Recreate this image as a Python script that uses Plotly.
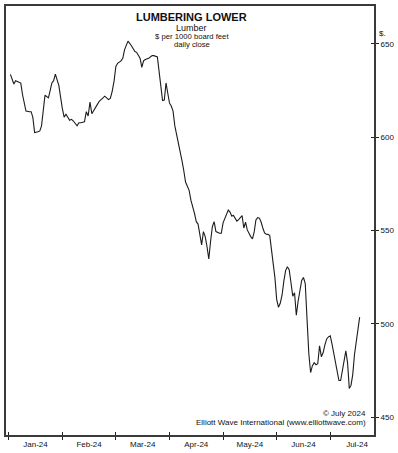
import calendar
import plotly.graph_objects as go

# ---- data: lumber daily close, $ per 1000 board feet ----
jan_days = [2, 4, 5, 7, 8, 9, 10, 11, 13, 14, 15, 16, 18, 19, 20, 21, 22, 24, 25, 26, 27, 28, 30, 31]
jan_close = [633.6, 628.4, 630.2, 629.5, 628.9, 622.8, 617.5, 613.9, 613.6, 613.6, 610.4, 602.4,
             602.9, 603.3, 606.0, 613.9, 622.4, 621.0, 625.4, 629.0, 630.2, 633.7, 627.7, 621.0]
feb_days = [1, 2, 3, 5, 6, 7, 9, 10, 11, 13, 14, 15, 16, 17, 19, 20, 21, 22, 23, 24, 26, 27, 28, 29]
feb_close = [615.5, 610.7, 612.2, 609.0, 609.5, 608.6, 606.0, 607.7, 607.7, 608.2, 613.6, 611.3,
             618.7, 612.5, 615.4, 617.5, 619.2, 620.1, 621.4, 621.9, 620.1, 620.7, 624.5, 629.8]
mar_days = [1, 2, 4, 5, 6, 7, 8, 10, 12, 13, 15, 16, 17, 18, 20, 22, 23, 25, 26, 27, 28, 29, 30, 31]
mar_close = [637.8, 639.5, 640.8, 642.2, 646.7, 649.3, 651.4, 648.9, 645.8, 645.4, 642.2, 637.3,
             640.8, 641.5, 642.2, 643.6, 643.6, 642.9, 634.2, 626.3, 619.6, 619.8, 629.0, 623.6]
apr_days = [1, 2, 3, 4, 5, 7, 8, 9, 10, 12, 13, 15, 16, 17, 18, 19, 20, 21, 22, 23, 24, 25, 26, 27, 29, 30]
apr_close = [618.3, 616.6, 613.9, 606.0, 601.6, 591.0, 587.4, 582.1, 575.9, 571.5, 566.2, 559.1, 554.7,
             553.4, 547.6, 542.3, 549.4, 546.7, 541.4, 534.7, 544.1, 552.0, 554.7, 549.4, 548.5, 548.5]
may_days = list(range(1, 32))
may_close = [554.1, 556.6, 558.2, 560.9, 559.8, 557.7, 558.0, 556.1, 555.0, 555.8, 557.2, 557.9, 551.3,
             554.4, 550.3, 548.1, 546.7, 545.5, 549.2, 555.6, 556.9, 556.6, 554.5, 551.3, 548.7, 548.0,
             547.9, 547.2, 539.7, 530.8, 524.6]
jun_days = list(range(1, 31))
jun_close = [513.1, 508.9, 511.0, 515.3, 522.7, 528.5, 530.6, 529.0, 522.1, 514.8, 516.6, 504.6, 512.1,
             518.4, 523.2, 524.8, 521.6, 502.5, 484.0, 473.9, 477.6, 479.2, 478.1, 478.6, 488.2, 482.4,
             484.5, 488.7, 491.9, 493.0]
jul_days = list(range(1, 19))
jul_close = [493.5, 489.3, 484.0, 480.2, 474.9, 469.6, 469.6, 474.9, 480.2, 485.5, 479.2, 465.4, 467.0,
             472.8, 483.4, 490.8, 498.3, 503.6]

month_labels = ["Jan-24", "Feb-24", "Mar-24", "Apr-24", "May-24", "Jun-24", "Jul-24"]
y_ticks = [450, 500, 550, 600, 650]

# ---- build series: each month gets equal width on the time axis ----
months = [(1, jan_days, jan_close), (2, feb_days, feb_close), (3, mar_days, mar_close),
          (4, apr_days, apr_close), (5, may_days, may_close), (6, jun_days, jun_close),
          (7, jul_days, jul_close)]
xs, ys, hover = [], [], []
for m, days, vals in months:
    nd = calendar.monthrange(2024, m)[1]
    for d, v in zip(days, vals):
        xs.append((m - 1) + (d - 1) / nd)
        ys.append(v)
        hover.append(f"2024-{m:02d}-{d:02d}")

bounds = list(range(len(month_labels)))
mids = [b + 0.5 for b in bounds]
xr = [-0.05, 6.816]
yr = [440.45, 670.2]

FONT = "Liberation Sans, Arial, Helvetica, sans-serif"
AX = "#3a3a3a"

fig = go.Figure()
fig.add_trace(go.Scatter(x=xs, y=ys, mode="lines", text=hover,
                         line=dict(color="#1c1c1c", width=1.1),
                         hovertemplate="%{text}: %{y}<extra></extra>", showlegend=False))
fig.add_trace(go.Scatter(x=xs, y=ys, mode="lines", xaxis="x2", yaxis="y2",
                         line=dict(width=0), hoverinfo="skip", showlegend=False))

fig.update_layout(
    width=398, height=453,
    margin=dict(l=4, r=24, t=4, b=16),
    paper_bgcolor="white", plot_bgcolor="white",
    font=dict(family=FONT, size=8, color="#111"),
    xaxis=dict(range=xr, tickmode="array", tickvals=mids, ticktext=month_labels,
               ticks="", showline=True, linecolor=AX, linewidth=2, mirror=True,
               showgrid=False, zeroline=False, tickfont=dict(size=8),
               minor=dict(tickmode="array", tickvals=bounds, ticks="outside",
                          ticklen=3, tickwidth=1, tickcolor="#222")),
    xaxis2=dict(range=xr, overlaying="x", anchor="y", side="bottom", tickmode="array",
                tickvals=bounds, ticks="inside", ticklen=3, tickwidth=1, tickcolor="#222",
                showticklabels=False, showline=False, showgrid=False, zeroline=False),
    yaxis=dict(range=yr, side="right", tickmode="array", tickvals=y_ticks,
               ticks="outside", ticklen=3, tickwidth=1, tickcolor="#222",
               showline=True, linecolor=AX, linewidth=2, mirror=True,
               showgrid=False, zeroline=False, tickfont=dict(size=8)),
    yaxis2=dict(range=yr, overlaying="y", anchor="x", side="right", tickmode="array",
                tickvals=y_ticks, ticks="inside", ticklen=3, tickwidth=1, tickcolor="#222",
                showticklabels=False, showline=False, showgrid=False, zeroline=False),
    annotations=[
        dict(text="<b>LUMBERING LOWER</b>", xref="paper", yref="paper", x=0.505, y=0.9745,
             xanchor="center", yanchor="middle", showarrow=False, font=dict(size=11, color="#111")),
        dict(text="Lumber", xref="paper", yref="paper", x=0.505, y=0.9495,
             xanchor="center", yanchor="middle", showarrow=False, font=dict(size=9, color="#111")),
        dict(text="$ per 1000 board feet", xref="paper", yref="paper", x=0.505, y=0.930,
             xanchor="center", yanchor="middle", showarrow=False, font=dict(size=7.7, color="#111")),
        dict(text="daily close", xref="paper", yref="paper", x=0.505, y=0.910,
             xanchor="center", yanchor="middle", showarrow=False, font=dict(size=7.7, color="#111")),
        dict(text="© July 2024", xref="paper", yref="paper", x=0.984, y=0.051,
             xanchor="right", yanchor="middle", showarrow=False, font=dict(size=8, color="#111")),
        dict(text="Elliott Wave International (www.elliottwave.com)", xref="paper", yref="paper",
             x=0.984, y=0.030, xanchor="right", yanchor="middle", showarrow=False,
             font=dict(size=8, color="#111")),
        dict(text="$.", xref="paper", yref="paper", x=1.008, y=0.9365,
             xanchor="left", yanchor="middle", showarrow=False, font=dict(size=8, color="#111")),
    ],
)

fig.write_html("out.html", config={"displayModeBar": False},
               post_script="document.body.style.margin='0';document.body.style.overflow='hidden';")
